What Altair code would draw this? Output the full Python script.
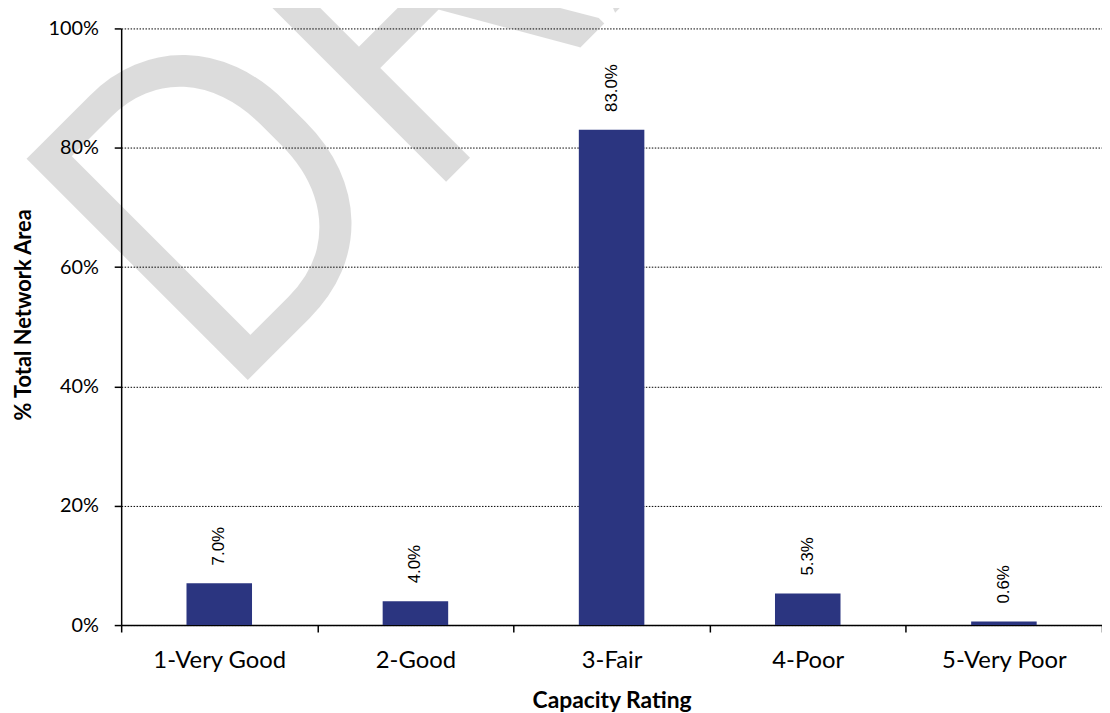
import altair as alt
import pandas as pd

categories = ["1-Very Good", "2-Good", "3-Fair", "4-Poor", "5-Very Poor"]
shares = [0.070, 0.040, 0.830, 0.053, 0.006]
y_ticks = [0.0, 0.2, 0.4, 0.6, 0.8, 1.0]
watermark = ["DRAFT"]

df = pd.DataFrame({"rating": categories, "share": shares})
wm = pd.DataFrame({"t": watermark})

x_enc = alt.X(
    "rating:N", sort=categories, title="Capacity Rating",
    scale=alt.Scale(paddingInner=0, paddingOuter=0),
    axis=alt.Axis(labelAngle=0, tickBand="extent", tickSize=7, labelPadding=17,
                  labelFontSize=24, titlePadding=17, titleFontSize=23, grid=False),
)
y_enc = alt.Y(
    "share:Q", title="% Total Network Area",
    scale=alt.Scale(domain=[0, 1], nice=False, zero=True),
    axis=alt.Axis(values=y_ticks, format=".0%", grid=True, gridColor="black",
                  gridDash=[1.5, 1.5], gridWidth=1, tickSize=7, labelPadding=16,
                  labelFontSize=20, titleFontSize=22, titlePadding=12, titleY=288),
)

mark_wm = alt.Chart(wm).mark_text(
    angle=315, fontSize=432, font="Roboto", fontWeight=300, align="left",
    baseline="alphabetic", color="black", stroke="black", strokeWidth=8,
    strokeJoin="miter", opacity=0.135,
).encode(text="t:N", x=alt.value(100), y=alt.value(376))

bars = alt.Chart(df).mark_bar(width=66, color="#2B3580").encode(x=x_enc, y=y_enc)

labels = alt.Chart(df).mark_text(
    angle=270, align="left", baseline="middle", dx=18, fontSize=17,
    font="Liberation Sans", color="black",
).encode(x=alt.X("rating:N", sort=categories), y="share:Q", text=alt.Text("share:Q", format=".1%"))

chart = alt.layer(mark_wm, bars, labels).properties(
    width=988, height=601,
    autosize=alt.AutoSizeParams(type="none"),
    padding={"left": 114, "top": 18, "right": 0, "bottom": 86},
    background="white",
).configure_view(stroke=None).configure_axis(
    domainColor="black", domainWidth=1.5, tickColor="black", tickWidth=1.5,
    labelFont="Lato", labelColor="black",
    titleFont="Lato", titleFontWeight="bold", titleColor="black",
)

chart.save("out.html", embed_options={"renderer": "svg", "actions": False})
